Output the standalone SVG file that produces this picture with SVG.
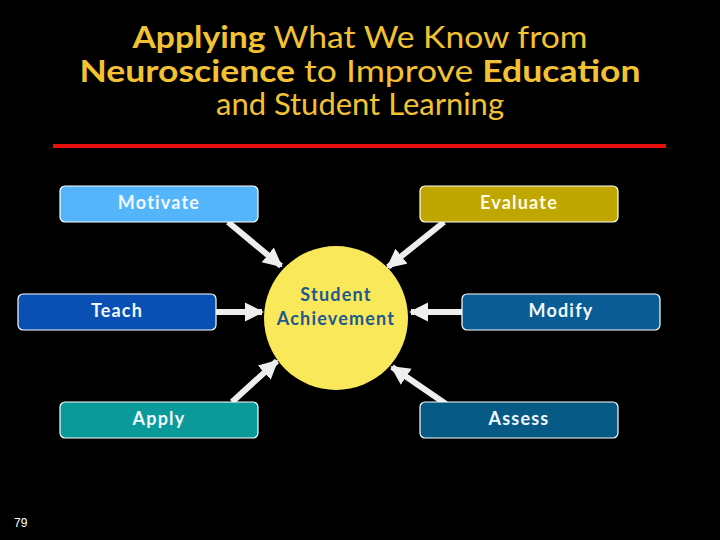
<svg xmlns="http://www.w3.org/2000/svg" width="720" height="540" viewBox="0 0 720 540">
<defs>
<style>
.title{font-family:Lato,"Open Sans","DejaVu Sans",sans-serif;font-size:30px;fill:#F3C232;text-anchor:middle}
.b{font-weight:bold}
.box{stroke:#ffffff;stroke-width:1.2}
.lbl{font-family:Lato,"Open Sans","DejaVu Sans",sans-serif;font-size:18px;font-weight:bold;letter-spacing:1.2px;text-anchor:middle;dominant-baseline:central}
.conn{stroke:#eeeeee;stroke-width:6;fill:none;marker-end:url(#ah)}
</style>
<marker id="ah" viewBox="0 0 10 10" refX="9" refY="5" markerWidth="3.2" markerHeight="3.4" orient="auto" markerUnits="strokeWidth">
<path d="M0,0 L10,5 L0,10 Z" fill="#eeeeee"/>
</marker>
</defs>
<rect x="0" y="0" width="720" height="540" fill="#000000"/>
<g id="title">
<text class="title" x="360" y="48" textLength="455" lengthAdjust="spacingAndGlyphs"><tspan class="b">Applying</tspan> What We Know from</text>
<text class="title" x="360" y="82" textLength="561" lengthAdjust="spacingAndGlyphs"><tspan class="b">Neuroscience</tspan> to Improve <tspan class="b">Education</tspan></text>
<text class="title" x="360" y="115" textLength="288" lengthAdjust="spacingAndGlyphs">and Student Learning</text>
</g>
<line x1="53" y1="146" x2="666" y2="146" stroke="#E8100E" stroke-width="4"/>
<g id="connectors">
<line class="conn" x1="228" y1="222" x2="281" y2="266"/>
<line class="conn" x1="444" y1="222" x2="388" y2="267"/>
<line class="conn" x1="216" y1="312" x2="262" y2="312"/>
<line class="conn" x1="462" y1="312" x2="411" y2="312"/>
<line class="conn" x1="232" y1="402" x2="277" y2="361"/>
<line class="conn" x1="446" y1="404" x2="392" y2="367"/>
</g>
<g id="center">
<circle cx="336" cy="318" r="72" fill="#F9E85A"/>
<text class="lbl" x="336" y="294" fill="#1D5A8C">Student</text>
<text class="lbl" x="336" y="318" fill="#1D5A8C">Achievement</text>
</g>
<g id="motivate">
<rect class="box" x="60" y="186" width="198" height="36" rx="5" fill="#55B5FA"/>
<text class="lbl" x="159" y="202" fill="#F2F8FF">Motivate</text>
</g>
<g id="evaluate">
<rect class="box" x="420" y="186" width="198" height="36" rx="5" fill="#BFA700"/>
<text class="lbl" x="519" y="202" fill="#FFFBE6">Evaluate</text>
</g>
<g id="teach">
<rect class="box" x="18" y="294" width="198" height="36" rx="5" fill="#0A50B4"/>
<text class="lbl" x="117" y="310" fill="#F2F8FF">Teach</text>
</g>
<g id="modify">
<rect class="box" x="462" y="294" width="198" height="36" rx="5" fill="#0A5C94"/>
<text class="lbl" x="561" y="310" fill="#F2F8FF">Modify</text>
</g>
<g id="apply">
<rect class="box" x="60" y="402" width="198" height="36" rx="5" fill="#0A9A9A"/>
<text class="lbl" x="159" y="418" fill="#F2F8FF">Apply</text>
</g>
<g id="assess">
<rect class="box" x="420" y="402" width="198" height="36" rx="5" fill="#075A86"/>
<text class="lbl" x="519" y="418" fill="#F2F8FF">Assess</text>
</g>
<text x="14" y="527" font-family="'Liberation Sans',Arial,sans-serif" font-size="12" fill="#ffffff">79</text>
</svg>
